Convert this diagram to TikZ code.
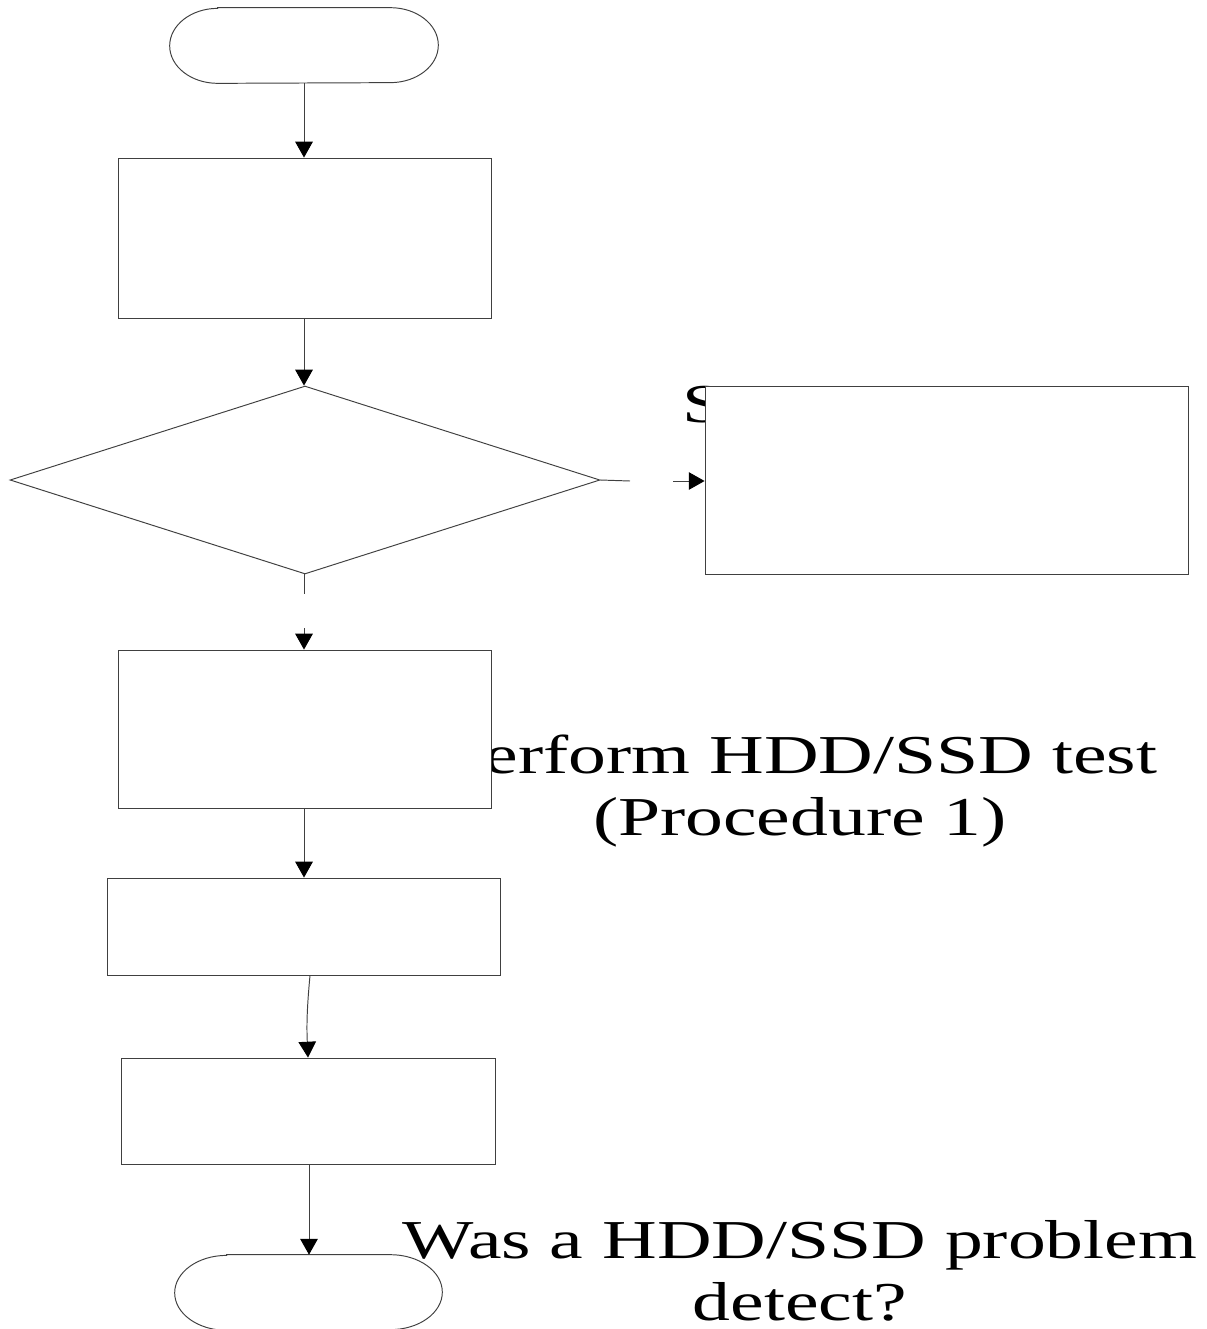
\documentclass[tikz,border=0pt]{standalone}
\usepackage{fontspec}
\setmainfont{Liberation Serif}
\usetikzlibrary{shapes.geometric,arrows.meta,calc}

\tikzset{
  edge/.style={draw=black!75, line width=0.55pt},
  arr/.style={edge, -{Triangle[width=10pt,length=9pt,color=black]}},
  procbox/.style={rectangle, edge, fill=white, inner sep=0pt},
  termbox/.style={rectangle, draw=none, inner sep=0pt, minimum width=#1, minimum height=1.5cm},
  bigtext/.style={inner sep=0pt, align=center, font=\fontsize{31.2}{35.1}\selectfont},
}
\newcommand{\wide}[1]{\scalebox{1.38}[1]{#1}}

\begin{document}
\begin{tikzpicture}[x=0.02cm, y=-0.02cm]
\useasboundingbox (0,0) rectangle (1207,1329);
\clip (0,0) rectangle (1207,1329);

% labels that sit behind the process boxes (base = last line's baseline)
\node[bigtext, anchor=base west] (sLabel) at (682,422) {\wide{S}};
\node[bigtext, anchor=base] (testLabel) at (800,835)
  {\wide{Perform HDD/SSD test}\\\wide{(Procedure 1)}};

% start terminator
\node[termbox=5.36cm] (start) at (304,45.5) {};
\draw[edge] ([xshift=0.96cm]start.north west) -- ([xshift=-0.96cm]start.north east)
  arc[start angle=90, end angle=-90, x radius=0.96cm, y radius=0.75cm]
  -- ([xshift=0.96cm]start.south west)
  arc[start angle=270, end angle=90, x radius=0.96cm, y radius=0.75cm] -- cycle;

% process boxes and decision
\node[procbox, minimum width=7.48cm, minimum height=3.2cm] (box1) at (305,238) {};
\node[diamond, edge, fill=white, inner sep=0pt, minimum width=11.8cm, minimum height=3.76cm] (dec) at (305,480) {};
\node[procbox, minimum width=9.68cm, minimum height=3.76cm] (side) at (947,480) {};
\node[procbox, minimum width=7.48cm, minimum height=3.16cm] (box2) at (305,729) {};
\node[procbox, minimum width=7.88cm, minimum height=1.94cm] (box3) at (304,926.5) {};
\node[procbox, minimum width=7.5cm, minimum height=2.12cm] (box4) at (308.5,1111) {};

% end terminator
\node[termbox=5.34cm] (stop) at (308.5,1292.5) {};
\draw[edge] ([xshift=1.04cm]stop.north west) -- ([xshift=-1.04cm]stop.north east)
  arc[start angle=90, end angle=-90, x radius=1.04cm, y radius=0.75cm]
  -- ([xshift=1.04cm]stop.south west)
  arc[start angle=270, end angle=90, x radius=1.04cm, y radius=0.75cm] -- cycle;

% free ends of the broken connectors
\coordinate (rgtA) at (630,481);
\coordinate (rgtB) at (673,481);
\coordinate (dwnA) at (304,594);
\coordinate (dwnB) at (304,628);

% connectors
\draw[arr] (start.south) -- (box1.north -| start.south);
\draw[arr] (box1.south -| 304,0) -- (dec.north -| 304,0);
\draw[edge] (dec.east) -- (rgtA);
\draw[arr] (rgtB) -- (side.west |- rgtB);
\draw[edge] (dec.south -| dwnA) -- (dwnA);
\draw[arr] (dwnB) -- (box2.north -| dwnB);
\draw[arr] (box2.south -| 304,0) -- (box3.north -| 304,0);
\draw[arr] (box3.south -| 310,0) to[bend right=4] (box4.north -| 308,0);
\draw[arr] (box4.south -| 309,0) -- (stop.north -| 309,0);

% question label over the end terminator
\node[bigtext, anchor=base] (askLabel) at (800,1320)
  {\wide{Was a HDD/SSD problem}\\\wide{detect?}};
\end{tikzpicture}
\end{document}
